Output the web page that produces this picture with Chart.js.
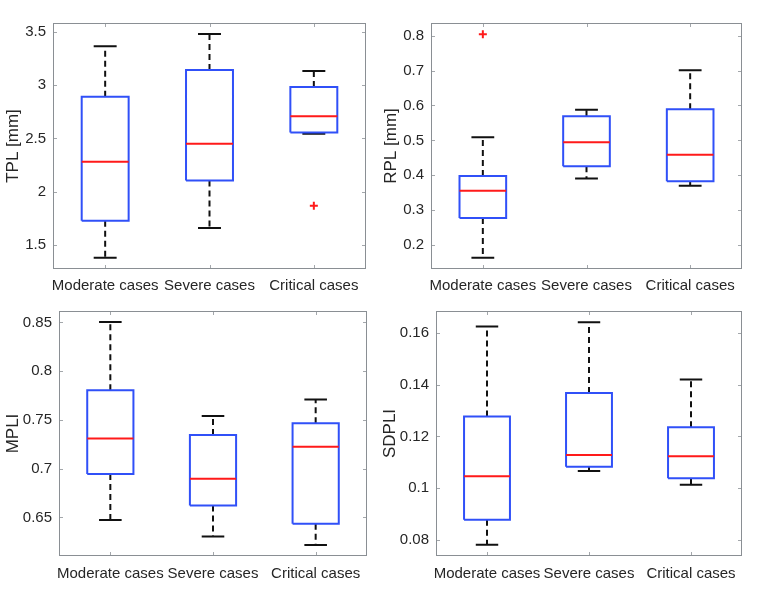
<!DOCTYPE html>
<html>
<head>
<meta charset="utf-8">
<script src="https://cdn.jsdelivr.net/npm/chart.js@4/dist/chart.umd.min.js"></script>
<style>
  html, body { margin: 0; padding: 0; background: #fff; }
  #wrap { position: relative; width: 780px; height: 589px; overflow: hidden; }
  canvas { position: absolute; }
</style>
</head>
<body>
<div id="wrap">
  <canvas id="tpl" width="375" height="295" style="left:0;top:0"></canvas>
  <canvas id="rpl" width="405" height="295" style="left:375px;top:0"></canvas>
  <canvas id="mpli" width="375" height="294" style="left:0;top:295px"></canvas>
  <canvas id="sdpli" width="405" height="294" style="left:375px;top:295px"></canvas>
</div>
<script>
// boxplot panels — whiskers, quartiles, medians and outliers

const categories = ['Moderate cases', 'Severe cases', 'Critical cases'];

// TPL [mm]
const tplLow  = [1.381, 1.660, 2.544];
const tplQ1   = [1.728, 2.106, 2.556];
const tplMed  = [2.281, 2.450, 2.709];
const tplQ3   = [2.891, 3.144, 2.984];
const tplHigh = [3.366, 3.481, 3.134];
const tplOutliers = [[], [], [1.869]];
const tplTicks = [1.5, 2, 2.5, 3, 3.5];

// RPL [mm]
const rplLow  = [0.164, 0.391, 0.370];
const rplQ1   = [0.278, 0.426, 0.383];
const rplMed  = [0.356, 0.495, 0.459];
const rplQ3   = [0.398, 0.569, 0.589];
const rplHigh = [0.509, 0.588, 0.701];
const rplOutliers = [[0.804], [], []];
const rplTicks = [0.2, 0.3, 0.4, 0.5, 0.6, 0.7, 0.8];

// MPLI
const mpliLow  = [0.6473, 0.6303, 0.6218];
const mpliQ1   = [0.6944, 0.6622, 0.6436];
const mpliMed  = [0.7310, 0.6897, 0.7225];
const mpliQ3   = [0.7805, 0.7344, 0.7466];
const mpliHigh = [0.8503, 0.7540, 0.7710];
const mpliOutliers = [[], [], []];
const mpliTicks = [0.65, 0.7, 0.75, 0.8, 0.85];

// SDPLI
const sdpliLow  = [0.0782, 0.1067, 0.1014];
const sdpliQ1   = [0.0879, 0.1083, 0.1039];
const sdpliMed  = [0.1047, 0.1129, 0.1124];
const sdpliQ3   = [0.1277, 0.1368, 0.1236];
const sdpliHigh = [0.1624, 0.1641, 0.1420];
const sdpliOutliers = [[], [], []];
const sdpliTicks = [0.08, 0.1, 0.12, 0.14, 0.16];

const FONT = "'Liberation Sans', Arial, sans-serif";
const TEXT = '#262626';
const BLUE = '#3050f8';
const RED = '#ff1a1a';
const BOX_HALF = 0.225;
const CAP_HALF = 0.11;

// frame and inward tick marks, MATLAB style
const frameTicks = {
  id: 'frameTicks',
  afterDraw(chart) {
    const { ctx, chartArea: a, scales: { x, y } } = chart;
    ctx.save();
    ctx.lineWidth = 1;
    ctx.strokeStyle = '#a3a7ab';
    ctx.beginPath();
    x.ticks.forEach(t => {
      const px = Math.round(x.getPixelForValue(t.value)) + 0.5;
      ctx.moveTo(px, a.bottom); ctx.lineTo(px, a.bottom - 4);
      ctx.moveTo(px, a.top); ctx.lineTo(px, a.top + 4);
    });
    y.ticks.forEach(t => {
      const py = Math.round(y.getPixelForValue(t.value)) + 0.5;
      ctx.moveTo(a.left, py); ctx.lineTo(a.left + 4, py);
      ctx.moveTo(a.right, py); ctx.lineTo(a.right - 4, py);
    });
    ctx.stroke();
    ctx.strokeStyle = '#8a8f94';
    ctx.strokeRect(a.left + 0.5, a.top + 0.5, a.right - a.left - 1, a.bottom - a.top - 1);
    ctx.restore();
  },
};

function buildDatasets(low, q1, med, q3, high, outliers) {
  const boxes = [], medians = [], whiskers = [], caps = [], outs = [];
  categories.forEach((_, i) => {
    const x = i + 1;
    boxes.push(
      { x: x - BOX_HALF, y: q1[i] }, { x: x + BOX_HALF, y: q1[i] },
      { x: x + BOX_HALF, y: q3[i] }, { x: x - BOX_HALF, y: q3[i] },
      { x: x - BOX_HALF, y: q1[i] }, { x, y: null });
    medians.push({ x: x - BOX_HALF, y: med[i] }, { x: x + BOX_HALF, y: med[i] }, { x, y: null });
    whiskers.push({ x, y: q3[i] }, { x, y: high[i] }, { x, y: null },
                  { x, y: q1[i] }, { x, y: low[i] }, { x, y: null });
    caps.push({ x: x - CAP_HALF, y: high[i] }, { x: x + CAP_HALF, y: high[i] }, { x, y: null },
              { x: x - CAP_HALF, y: low[i] }, { x: x + CAP_HALF, y: low[i] }, { x, y: null });
    outliers[i].forEach(v => outs.push({ x, y: v }));
  });
  const line = { pointRadius: 0, borderWidth: 2, spanGaps: false, fill: false, tension: 0 };
  // first in the list is drawn on top
  return [
    { data: outs, showLine: false, pointStyle: 'cross', pointRadius: 4, borderWidth: 2,
      borderColor: RED, backgroundColor: RED },
    { ...line, data: medians, borderColor: RED },
    { ...line, data: boxes, borderColor: BLUE, borderJoinStyle: 'miter' },
    { ...line, data: caps, borderColor: '#111' },
    { ...line, data: whiskers, borderColor: '#111', borderDash: [6, 4] },
  ];
}

function makePanel(id, title, data, ticks, min, max, lay) {
  new Chart(document.getElementById(id), {
    type: 'line',
    data: { datasets: buildDatasets(...data) },
    plugins: [frameTicks],
    options: {
      responsive: false,
      animation: false,
      events: [],
      layout: { padding: { left: 0, top: lay.top, right: lay.right, bottom: 0 } },
      plugins: { legend: { display: false }, tooltip: { enabled: false } },
      scales: {
        x: {
          type: 'linear', min: 0.5, max: 3.5,
          grid: { display: false, drawTicks: false },
          border: { display: false },
          afterBuildTicks: s => { s.ticks = categories.map((_, i) => ({ value: i + 1 })); },
          afterFit: s => { s.height = lay.bottom; },
          ticks: {
            autoSkip: false, maxRotation: 0, padding: lay.labelPad, color: TEXT,
            font: { family: FONT, size: 15 },
            callback: v => categories[v - 1],
          },
        },
        y: {
          min, max,
          grid: { display: false, drawTicks: false },
          border: { display: false },
          afterBuildTicks: s => { s.ticks = ticks.map(v => ({ value: v })); },
          afterFit: s => { s.width = lay.left; },
          ticks: {
            padding: 7, color: TEXT,
            font: { family: FONT, size: 15 },
            callback: v => String(v),
          },
          title: {
            display: true, text: title, color: TEXT,
            font: { family: FONT, size: 17 },
            padding: { top: lay.titlePad, bottom: 0 },
          },
        },
      },
    },
  });
}

makePanel('tpl', 'TPL [mm]', [tplLow, tplQ1, tplMed, tplQ3, tplHigh, tplOutliers], tplTicks,
  1.275, 3.584, { left: 53, top: 23, right: 9, bottom: 26, titlePad: 3, labelPad: 8 });
makePanel('rpl', 'RPL [mm]', [rplLow, rplQ1, rplMed, rplQ3, rplHigh, rplOutliers], rplTicks,
  0.132, 0.836, { left: 56, top: 23, right: 38, bottom: 26, titlePad: 6, labelPad: 8 });
makePanel('mpli', 'MPLI', [mpliLow, mpliQ1, mpliMed, mpliQ3, mpliHigh, mpliOutliers], mpliTicks,
  0.6104, 0.8617, { left: 59, top: 14, right: 8, bottom: 33, titlePad: 3, labelPad: 9 });
makePanel('sdpli', 'SDPLI', [sdpliLow, sdpliQ1, sdpliMed, sdpliQ3, sdpliHigh, sdpliOutliers], sdpliTicks,
  0.0739, 0.1684, { left: 61, top: 15, right: 38, bottom: 33, titlePad: 5, labelPad: 9 });
</script>
</body>
</html>
